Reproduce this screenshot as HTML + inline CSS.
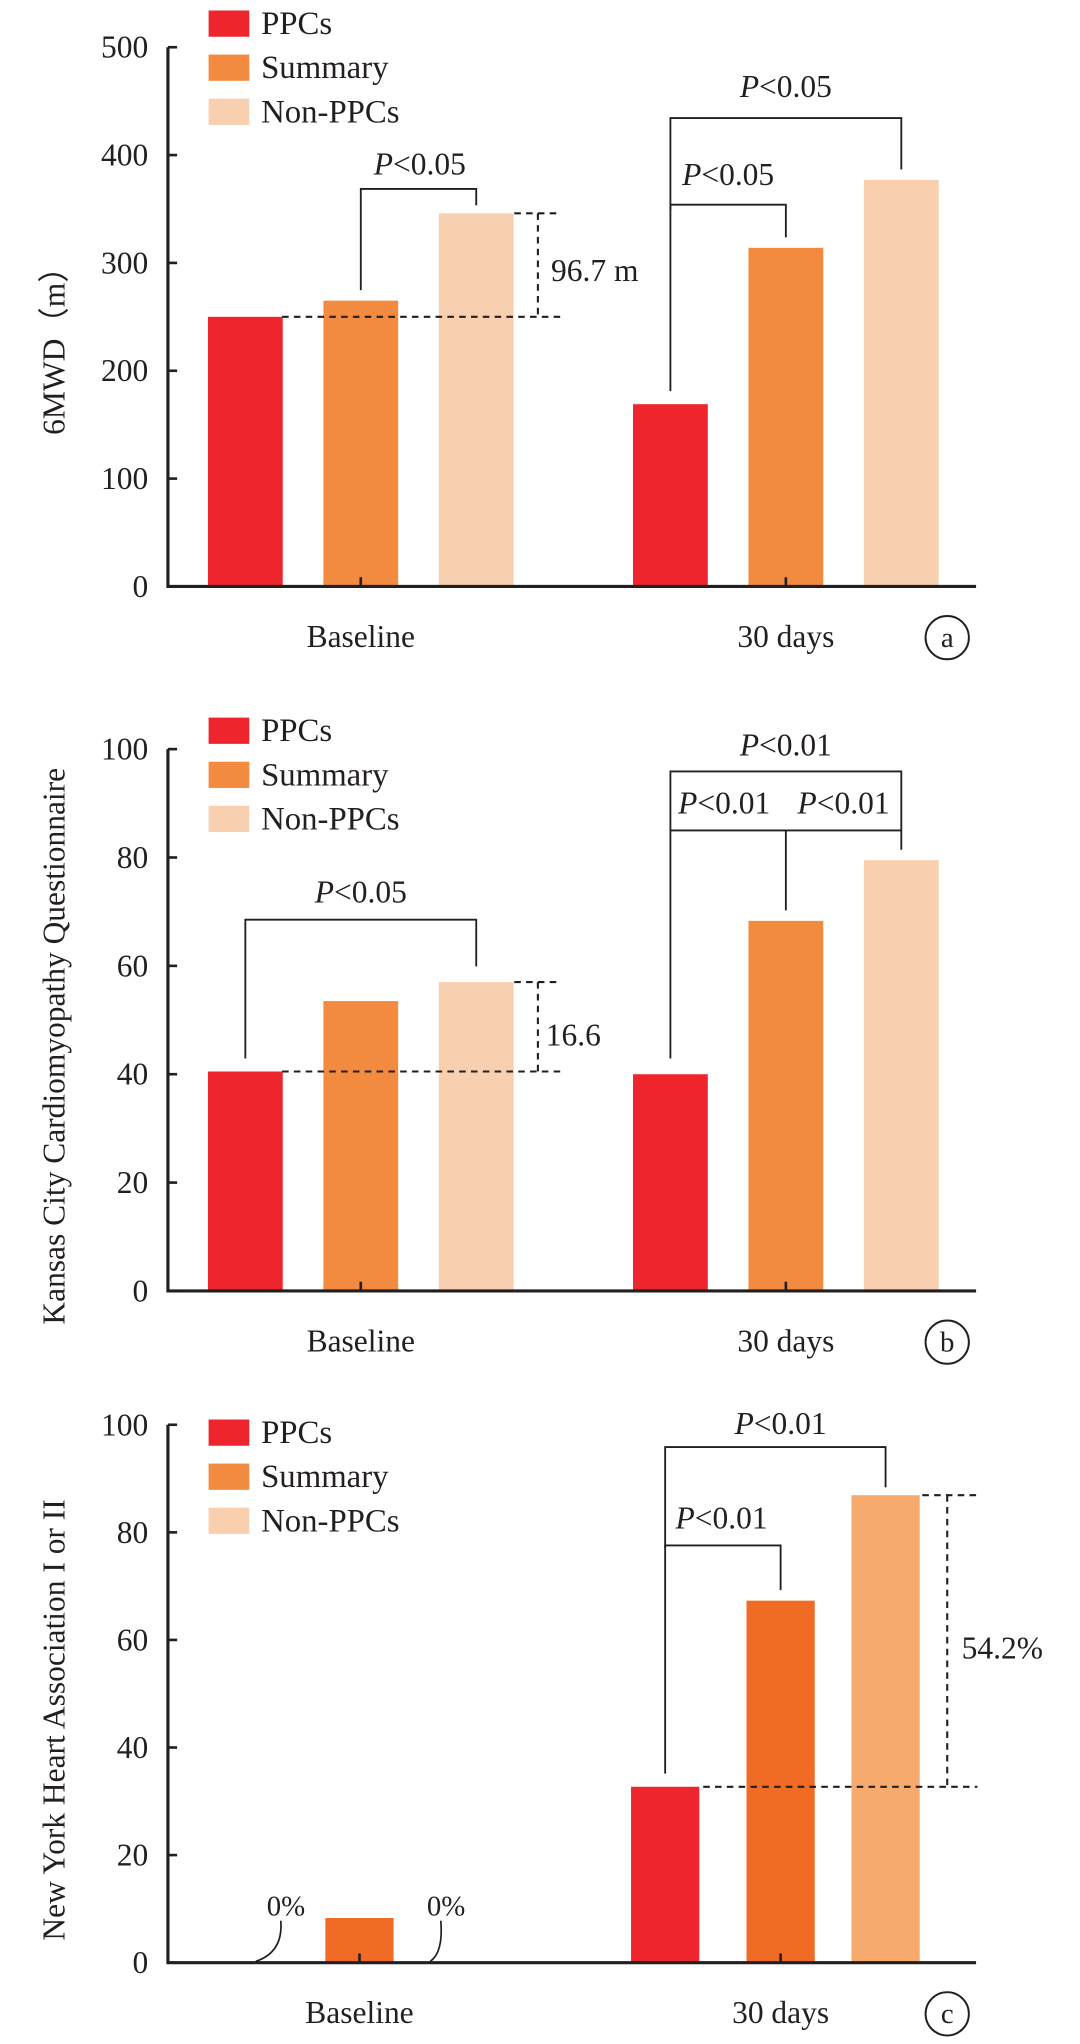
<!DOCTYPE html>
<html><head><meta charset="utf-8"><style>
html,body{margin:0;padding:0;background:#fff;width:1080px;height:2044px;overflow:hidden}
svg{display:block}
text{font-family:"Liberation Serif",serif;fill:#231f20}
</style></head><body>
<svg id="chart" width="1080" height="2044" viewBox="0 0 823.2 1558" xmlns="http://www.w3.org/2000/svg"></svg>
<script>
const groups = ["Baseline", "30 days"];
const seriesNames = ["PPCs", "Summary", "Non-PPCs"];
const valuesA = [[250, 169], [265, 314], [346, 377]];
const valuesB = [[40.5, 40], [53.5, 68.3], [57, 79.5]];
const valuesC = [[0, 32.7], [8.3, 67.3], [0, 86.9]];
const ticksA = [0, 100, 200, 300, 400, 500];
const ticksB = [0, 20, 40, 60, 80, 100];
const ticksC = [0, 20, 40, 60, 80, 100];
const titles = ["6MWD\uFF08m\uFF09", "Kansas City Cardiomyopathy Questionnaire", "New York Heart Association I or II"];
const panelLetters = ["a", "b", "c"];

const NS = "http://www.w3.org/2000/svg";
const svg = document.getElementById("chart");
function mk(tag, attrs, parent, txt) {
  const e = document.createElementNS(NS, tag);
  for (const k in attrs) e.setAttribute(k, attrs[k]);
  if (txt !== undefined) e.textContent = txt;
  (parent || svg).appendChild(e);
  return e;
}
const colorsAB = ["#ee252c", "#f28b3f", "#f9d0af"];
const colorsC = ["#ee252c", "#f06c24", "#f6aa6d"];

function drawPanel(idx, y0, yTop, values, ticks, colors, centers, offs, barW, legendDy) {
  const g = mk("g", {});
  
  
  const maxV = ticks[ticks.length - 1];
  const y = v => y0 - (v / maxV) * (y0 - yTop);
  const cx = (gi, si) => centers[gi] + offs[si];
  values.forEach((ser, si) => ser.forEach((v, gi) => {
    if (v <= 0) return;
    const r = mk("rect", {x: cx(gi, si) - barW / 2, y: y(v), width: barW, height: y0 - y(v), fill: colors[si]}, g);
    
    
  }));
  const ax = mk("path", {d: `M128 ${yTop} V${y0} H744`, stroke: "#231f20", "stroke-width": 2.4, fill: "none"}, g);
  
  
  ticks.forEach(t => {
    mk("line", {x1: 128, x2: 135, y1: y(t), y2: y(t), stroke: "#231f20", "stroke-width": 2}, g);
    const tl = mk("text", {x: 113, y: y(t) + 8, "text-anchor": "end", "font-size": 24}, g, t);
    
    
  });
  groups.forEach((name, gi) => {
    mk("line", {x1: centers[gi], x2: centers[gi], y1: y0, y2: y0 - 7, stroke: "#231f20", "stroke-width": 2}, g);
    const xl = mk("text", {x: centers[gi], y: y0 + 46, "text-anchor": "middle", "font-size": 24}, g, name);
    
    
  });
  const yt = mk("text", {x: 0, y: 0, "text-anchor": "middle", "font-size": 24, transform: `translate(49 ${(yTop + y0) / 2 + 20}) rotate(-90)`}, g, titles[idx]);
  
  
  seriesNames.forEach((n, si) => {
    const ly = yTop + legendDy + si * 33.6;
    const lr = mk("rect", {x: 159, y: ly, width: 31, height: 20, fill: colorsAB[si]}, g);
    
    
    const lt = mk("text", {x: 199, y: ly + 18, "font-size": 25}, g, n);
    
    
  });
  const cy = y0 + 39;
  mk("circle", {cx: 722, cy: cy, r: 16.5, fill: "none", stroke: "#231f20", "stroke-width": 1.5}, g);
  const pl = mk("text", {x: 722, y: cy + 7, "text-anchor": "middle", "font-size": 22}, g, panelLetters[idx]);
  
  
  return {g, y, cx, y0};
}
function pText(g, x, yy, txt) {
  const t = mk("text", {x: x, y: yy, "text-anchor": "middle", "font-size": 24}, g);
  mk("tspan", {"font-style": "italic"}, t, "P");
  mk("tspan", {}, t, txt);
  
  
}
function bracket(g, x1, y1, x2, y2, top) {
  const p = mk("path", {d: `M${x1} ${y1} V${top} H${x2} V${y2}`, stroke: "#231f20", "stroke-width": 1.4, fill: "none"}, g);
  
  
}
function dash(g, d) {
  const p = mk("path", {d: d, stroke: "#231f20", "stroke-width": 1.6, fill: "none", "stroke-dasharray": "5 4"}, g);
  
  
}
function label(g, x, y, txt) {
  const t = mk("text", {x: x, y: y, "font-size": 24}, g, txt);
  
  
}

// Panel A
let P = drawPanel(0, 447, 36, valuesA, ticksA, colorsAB, [275, 599], [-88, 0, 88], 57, -28);
bracket(P.g, P.cx(0,1), P.y(valuesA[1][0]) - 8, P.cx(0,2), P.y(valuesA[2][0]) - 6, 144);
pText(P.g, 320, 133, "<0.05");
dash(P.g, `M215 ${P.y(valuesA[0][0])} H427 M392 ${P.y(valuesA[2][0])} H427 M410 ${P.y(valuesA[2][0])} V${P.y(valuesA[0][0])}`);
label(P.g, 420, 214, "96.7 m");
bracket(P.g, P.cx(1,0), P.y(valuesA[0][1]) - 10, P.cx(1,1), P.y(valuesA[1][1]) - 8, 156);
pText(P.g, 555, 141, "<0.05");
bracket(P.g, P.cx(1,0), 160, P.cx(1,2), P.y(valuesA[2][1]) - 8, 90);
pText(P.g, 599, 74, "<0.05");

// Panel B
P = drawPanel(1, 984, 571, valuesB, ticksB, colorsAB, [275, 599], [-88, 0, 88], 57, -24);
bracket(P.g, P.cx(0,0), P.y(valuesB[0][0]) - 10, P.cx(0,2), P.y(valuesB[2][0]) - 12, 701);
pText(P.g, 275, 688, "<0.05");
dash(P.g, `M215 ${P.y(valuesB[0][0])} H427 M392 ${P.y(valuesB[2][0])} H427 M410 ${P.y(valuesB[2][0])} V${P.y(valuesB[0][0])}`);
label(P.g, 416, 797, "16.6");
bracket(P.g, P.cx(1,0), P.y(valuesB[0][1]) - 12, P.cx(1,2), P.y(valuesB[2][1]) - 8, 588);
mk("line", {x1: P.cx(1,0), x2: P.cx(1,2), y1: 633, y2: 633, stroke: "#231f20", "stroke-width": 1.4}, P.g);
mk("line", {x1: P.cx(1,1), x2: P.cx(1,1), y1: 633, y2: P.y(valuesB[1][1]) - 8, stroke: "#231f20", "stroke-width": 1.4}, P.g);
pText(P.g, 599, 576, "<0.01");
pText(P.g, 552, 620, "<0.01");
pText(P.g, 643, 620, "<0.01");

// Panel C
P = drawPanel(2, 1496, 1086, valuesC, ticksC, colorsC, [274, 595], [-88, 0, 80], 52, -4);
bracket(P.g, P.cx(1,0), P.y(valuesC[0][1]) - 10, P.cx(1,1), P.y(valuesC[1][1]) - 8, 1178);
pText(P.g, 550, 1165, "<0.01");
bracket(P.g, P.cx(1,0), 1180, P.cx(1,2), P.y(valuesC[2][1]) - 6, 1103);
pText(P.g, 595, 1093, "<0.01");
dash(P.g, `M536 ${P.y(valuesC[0][1])} H745 M703 ${P.y(valuesC[2][1])} H745 M722 ${P.y(valuesC[2][1])} V${P.y(valuesC[0][1])}`);
label(P.g, 733, 1264, "54.2%");
const zeroText = [32, -14];
const zeroFoot = [9, -26];
[0, 2].forEach((si, k) => {
  const bx = P.cx(0, si);
  const tx = bx + zeroText[k], fx = bx + zeroFoot[k];
  const c = mk("path", {d: `M${fx} ${P.y(0) - 1} Q${tx - 2} ${P.y(0) - 8} ${tx - 4} ${P.y(0) - 32}`, stroke: "#231f20", "stroke-width": 1.3, fill: "none"}, P.g);
  
  
  const z = mk("text", {x: tx, y: P.y(0) - 36, "text-anchor": "middle", "font-size": 22}, P.g, "0%");
  
  
});
</script>
</body></html>
